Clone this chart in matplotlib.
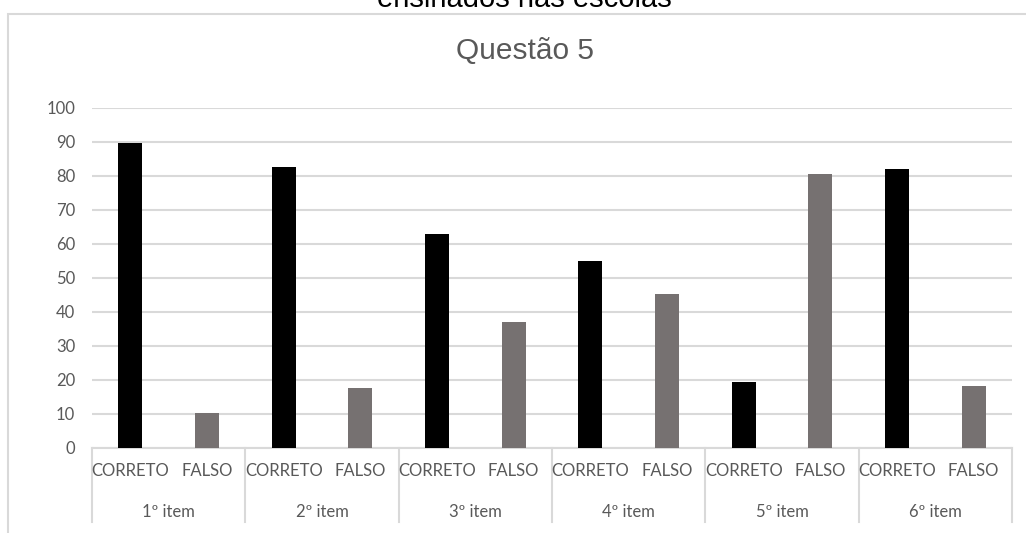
import numpy as np
import matplotlib
matplotlib.use("Agg")
import matplotlib.pyplot as plt
from matplotlib.patches import Rectangle
from matplotlib.lines import Line2D

# dados
itens = ["1º item", "2º item", "3º item", "4º item", "5º item", "6º item"]
respostas = ["CORRETO", "FALSO"]
correto = [89.7, 82.4, 62.9, 54.9, 19.4, 81.8]
falso = [10.3, 17.6, 37.1, 45.1, 80.6, 18.2]
yticks = [0, 10, 20, 30, 40, 50, 60, 70, 80, 90, 100]

W, H = 1026, 533
fig = plt.figure(figsize=(W / 100, H / 100), dpi=100)
FONT = "Lato"
TXT = "#595959"
GRID = "#d9d9d9"
CX = 524.5 / W  # centro horizontal da área do gráfico

# área do gráfico (borda cinza, cortada à direita e embaixo)
fig.patches.append(Rectangle((8 / W, -0.1), 1.2, 1 - 14 / H + 0.1, transform=fig.transFigure,
                             fill=False, edgecolor=GRID, linewidth=1.5, zorder=0))
# título externo cortado no topo
fig.text(CX, 1 - 7 / H, "ensinados nas escolas", ha="center", va="baseline",
         fontsize=21, family="Liberation Sans", color="black")
fig.text(CX, 1 - 59 / H, "Questão 5", ha="center", va="baseline",
         fontsize=21.5, family="Liberation Sans", color=TXT)

left, right, top, bottom = 92, 1012, 107.5, 448
ax = fig.add_axes([left / W, 1 - bottom / H, (right - left) / W, (bottom - top) / H])

n = len(itens)
x = np.arange(2 * n)
vals = []
cols = []
for c, f in zip(correto, falso):
    vals += [c, f]
    cols += ["#000000", "#767171"]
ax.bar(x, vals, width=0.31, color=cols, zorder=3)

ax.set_xlim(-0.5, 2 * n - 0.5)
ax.set_ylim(0, 100)
ax.set_yticks(yticks)
ax.set_yticklabels([str(v) for v in yticks], fontsize=12, family=FONT, color=TXT)
ax.tick_params(axis="y", length=0, pad=12)
ax.set_xticks([])
for s in ["left", "right", "top"]:
    ax.spines[s].set_visible(False)
ax.spines["bottom"].set_color(GRID)
ax.spines["bottom"].set_linewidth(1.5)
ax.grid(axis="y", color=GRID, linewidth=1.5, zorder=0)
ax.set_axisbelow(True)

ph = bottom - top
trans = ax.get_xaxis_transform()
y1 = -(471 - bottom) / ph
y2 = -(512 - bottom) / ph
yend = -(522 - bottom) / ph
for i in range(2 * n):
    ax.text(x[i], y1, respostas[i % 2], ha="center", va="center", transform=trans,
            fontsize=12, family=FONT, color=TXT)
for g in range(n):
    ax.text(2 * g + 0.5, y2, itens[g], ha="center", va="center", transform=trans,
            fontsize=12, family=FONT, color=TXT)
for g in range(n + 1):
    ax.add_line(Line2D([2 * g - 0.5, 2 * g - 0.5], [0, yend], transform=trans,
                       color=GRID, linewidth=1.5, clip_on=False))

fig.savefig("out.png", dpi=100)
